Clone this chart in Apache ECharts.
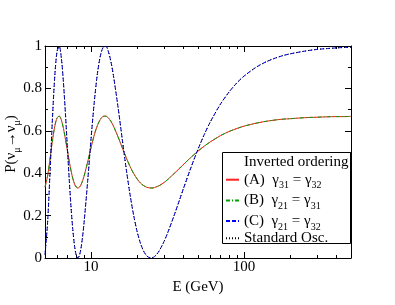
<!DOCTYPE html>
<html><head><meta charset="utf-8">
<script src="https://cdn.jsdelivr.net/npm/echarts@6/dist/echarts.min.js"></script>
<style>html,body{margin:0;padding:0;background:#fff}#c{width:395px;height:305px}</style>
</head><body><div id="c"></div>
<script>
// Energy samples (GeV)
const energy = [5.0,5.2,5.4,5.6,5.8,6.0,6.2,6.4,6.6,6.8,7.0,7.2,7.4,7.6,7.8,8.0,8.2,8.4,8.6,8.8,9.0,9.5,10,10.5,11,11.5,12,12.5,13,13.5,14,15,16,17,18,19,20,21,22,23,24,25,26,27,28,30,32,35,38,40,45,50,55,60,70,80,90,100,120,140,160,180,200,250,300,350,400,450,500];
// (A) gamma31 = gamma32 (red)
const probA = [0.335,0.387,0.471,0.556,0.623,0.662,0.669,0.650,0.611,0.561,0.508,0.456,0.411,0.375,0.349,0.335,0.330,0.334,0.346,0.364,0.386,0.453,0.521,0.581,0.625,0.654,0.668,0.669,0.660,0.644,0.623,0.572,0.520,0.472,0.431,0.398,0.373,0.354,0.342,0.334,0.331,0.330,0.332,0.337,0.342,0.356,0.373,0.399,0.424,0.440,0.475,0.504,0.528,0.547,0.577,0.597,0.611,0.622,0.636,0.645,0.651,0.655,0.657,0.662,0.664,0.666,0.667,0.667,0.668];
// (B) gamma21 = gamma31 (green) overlaps (A)
const probB = [0.335,0.387,0.471,0.556,0.623,0.662,0.669,0.650,0.611,0.561,0.508,0.456,0.411,0.375,0.349,0.335,0.330,0.334,0.346,0.364,0.386,0.453,0.521,0.581,0.625,0.654,0.668,0.669,0.660,0.644,0.623,0.572,0.520,0.472,0.431,0.398,0.373,0.354,0.342,0.334,0.331,0.330,0.332,0.337,0.342,0.356,0.373,0.399,0.424,0.440,0.475,0.504,0.528,0.547,0.577,0.597,0.611,0.622,0.636,0.645,0.651,0.655,0.657,0.662,0.664,0.666,0.667,0.667,0.668];
// (C) gamma21 = gamma32 (blue)
const probC = [0.016,0.169,0.413,0.666,0.863,0.976,0.997,0.941,0.827,0.681,0.522,0.371,0.238,0.133,0.057,0.014,0.000,0.013,0.047,0.100,0.166,0.361,0.563,0.737,0.869,0.953,0.994,0.998,0.972,0.924,0.861,0.713,0.559,0.417,0.297,0.200,0.125,0.071,0.034,0.012,0.002,0.001,0.007,0.019,0.036,0.078,0.127,0.203,0.277,0.324,0.427,0.513,0.583,0.640,0.725,0.784,0.827,0.858,0.900,0.926,0.943,0.955,0.963,0.976,0.984,0.988,0.991,0.993,0.994];
// Standard oscillation (black dotted) overlaps (C)
const probStd = [0.016,0.169,0.413,0.666,0.863,0.976,0.997,0.941,0.827,0.681,0.522,0.371,0.238,0.133,0.057,0.014,0.000,0.013,0.047,0.100,0.166,0.361,0.563,0.737,0.869,0.953,0.994,0.998,0.972,0.924,0.861,0.713,0.559,0.417,0.297,0.200,0.125,0.071,0.034,0.012,0.002,0.001,0.007,0.019,0.036,0.078,0.127,0.203,0.277,0.324,0.427,0.513,0.583,0.640,0.725,0.784,0.827,0.858,0.900,0.926,0.943,0.955,0.963,0.976,0.984,0.988,0.991,0.993,0.994];

const xMajor = [10, 100];
const xMinor = [6,7,8,9,20,30,40,50,60,70,80,90,200,300,400];

const legendText = {
  'Inverted ordering': '{n|Inverted ordering}',
  '(A)': '{n|(A)  γ}{s|31}{n| = γ}{s|32}',
  '(B)': '{n|(B)  γ}{s|21}{n| = γ}{s|31}',
  '(C)': '{n|(C)  γ}{s|21}{n| = γ}{s|32}',
  'Standard Osc.': '{n|Standard Osc.}'
};
const yTitle = '{n|P(ν}{s|μ}{n|→ν}{s|μ}{n|)}';

const FONT = 'Liberation Serif';
const rich = {
  n: {fontFamily: FONT, fontSize: 15, lineHeight: 18, color: '#000'},
  s: {fontFamily: FONT, fontSize: 10, lineHeight: 6, padding: [12, 0, 0, 0], color: '#000'}
};

const pairs = arr => energy.map((e, i) => [e, arr[i]]);

const black = '#000';
function xAx(pos, ticks, len, labels, line) {
  return {
    type: 'log', logBase: 10, min: 5, max: 500, position: pos,
    axisLine: {show: line, lineStyle: {color: black, width: 1}},
    axisTick: {show: true, inside: true, length: len, customValues: ticks, lineStyle: {color: black}},
    axisLabel: labels ? {show: true, customValues: xMajor, fontFamily: FONT, fontSize: 15, color: black, margin: 2} : {show: false},
    splitLine: {show: false},
    name: labels ? 'E (GeV)' : '',
    nameLocation: 'middle', nameGap: 16,
    nameTextStyle: {fontFamily: FONT, fontSize: 15, color: black}
  };
}
function yAx(pos, labels) {
  return {
    type: 'value', min: 0, max: 1, interval: 0.2, position: pos,
    axisLine: {show: true, lineStyle: {color: black, width: 1}},
    axisTick: {show: true, inside: true, length: 6, lineStyle: {color: black}},
    minorTick: {show: true, splitNumber: 2, length: 3, lineStyle: {color: black}},
    axisLabel: labels ? {show: true, fontFamily: FONT, fontSize: 15, color: black, margin: 3} : {show: false},
    splitLine: {show: false}, minorSplitLine: {show: false}
  };
}

const chart = echarts.init(document.getElementById('c'), null, {renderer: 'canvas'});
chart.setOption({
  animation: false,
  backgroundColor: '#fff',
  grid: {left: 45, right: 44, top: 46, bottom: 47, containLabel: false, outerBoundsMode: 'none'},
  xAxis: [
    xAx('bottom', xMajor, 6, true, true),
    xAx('bottom', xMinor, 3, false, false),
    xAx('top', xMajor, 6, false, true),
    xAx('top', xMinor, 3, false, false)
  ],
  yAxis: [yAx('left', true), yAx('right', false)],
  graphic: [
    {
      type: 'rect', z: 5,
      shape: {x: 222.5, y: 152.5, width: 128, height: 91},
      style: {fill: '#fff', stroke: '#000', lineWidth: 1}
    },
    {
      type: 'text', z: 5, x: 11, y: 144, rotation: Math.PI / 2,
      style: {text: yTitle, rich: rich, align: 'center', verticalAlign: 'middle'}
    }
  ],
  legend: {
    z: 10, orient: 'vertical', left: 225, top: 155, padding: 0,
    itemWidth: 13, itemHeight: 10, itemGap: -1.3, selectedMode: false,
    itemStyle: {opacity: 0},
    data: [
      {name: 'Inverted ordering', icon: 'none'},
      '(A)', '(B)', '(C)', 'Standard Osc.'
    ],
    formatter: name => legendText[name],
    textStyle: {rich: rich}
  },
  series: [
    {name: 'Inverted ordering', type: 'line', data: []},
    {name: '(A)', type: 'line', data: pairs(probA), symbol: 'none', smooth: 0.3,
      lineStyle: {color: '#ff2020', width: 1, type: 'solid'}, itemStyle: {color: '#ff2020'}},
    {name: '(B)', type: 'line', data: pairs(probB), symbol: 'none', smooth: 0.3,
      lineStyle: {color: '#00a000', width: 1, type: [4, 2, 1, 2]}, itemStyle: {color: '#00a000'}},
    {name: '(C)', type: 'line', data: pairs(probC), symbol: 'none', smooth: 0.3,
      lineStyle: {color: '#0000ff', width: 1, type: [4, 2]}, itemStyle: {color: '#0000ff'}},
    {name: 'Standard Osc.', type: 'line', data: pairs(probStd), symbol: 'none', smooth: 0.3,
      lineStyle: {color: '#000', width: 1, type: [1, 2]}, itemStyle: {color: '#000'}}
  ]
});
</script>
</body></html>
